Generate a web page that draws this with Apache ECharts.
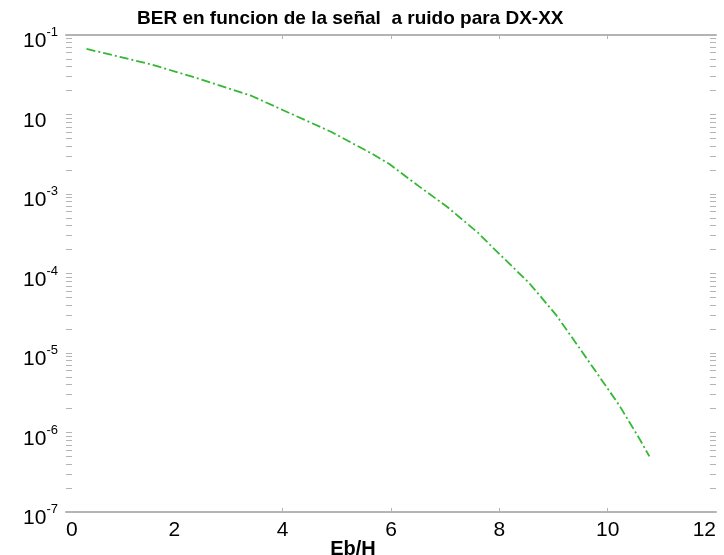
<!DOCTYPE html>
<html>
<head>
<meta charset="utf-8">
<script src="https://cdn.jsdelivr.net/npm/echarts@6/dist/echarts.min.js"></script>
<style>html,body{margin:0;padding:0;background:#fff}#c{width:724px;height:555px}</style>
</head>
<body>
<div id="c"></div>
<script>
// Data
const ebn0 = [0.38, 0.77, 1.55, 2.41, 3.43, 4.0, 4.90, 5.66, 5.97, 6.53, 7.04, 7.61, 7.87, 8.55, 9.05, 9.53, 10.21, 10.58, 10.77];
const ber  = [0.0667, 0.0577, 0.0431, 0.0288, 0.0171, 0.0114, 0.00603, 0.00318, 0.00238, 0.00123, 6.86e-4, 3.24e-4, 2.15e-4, 7.6e-5, 3.0e-5, 1.03e-5, 2.22e-6, 8.5e-7, 5.0e-7];
const titleText = 'BER en funcion de la señal  a ruido para DX-XX';
const xName = 'Eb/H';
const xTickLabels = [0, 2, 4, 6, 8, 10, 12];
const xMarkTicks = [4, 6, 8, 10];
const yDecades = [1e-7, 1e-6, 1e-5, 1e-4, 1e-3, 1e-2, 1e-1];
const yMinorMult = [2, 3, 4, 5, 6, 7, 8, 9];

const yTicks = [];
yDecades.forEach((d, i) => {
  yTicks.push(d);
  if (i < yDecades.length - 1) yMinorMult.forEach(m => yTicks.push(+(m * d).toPrecision(3)));
});

const gray = '#b4b4b4';
const font = 'Arial, "Liberation Sans", sans-serif';

function yLabel(v) {
  const e = Math.round(Math.log10(v));
  if (e === -2) return '{b|10}{h|' + e + '}';
  return '{b|10}{s|' + e + '}';
}
const rich = {
  b: { fontSize: 21, fontFamily: font, color: '#000', verticalAlign: 'bottom' },
  s: { fontSize: 13, fontFamily: font, color: '#000', verticalAlign: 'bottom', padding: [0, 0, 13, 0] },
  h: { fontSize: 13, fontFamily: font, color: 'rgba(0,0,0,0)', verticalAlign: 'bottom', padding: [0, 0, 13, 0] }
};

const chart = echarts.init(document.getElementById('c'), null, { renderer: 'canvas' });
chart.setOption({
  animation: false,
  backgroundColor: '#fff',
  title: {
    text: titleText,
    left: 137, top: 9, padding: 0,
    textStyle: { fontFamily: font, fontSize: 19, fontWeight: 'bold', color: '#000' }
  },
  grid: { left: 66, right: 8, top: 35, bottom: 43, containLabel: false, outerBoundsMode: 'none' },
  xAxis: [{
    type: 'value', min: 0, max: 12, interval: 2, position: 'bottom',
    name: xName, nameLocation: 'middle', nameGap: 27, nameMoveOverlap: false,
    nameTextStyle: { fontFamily: font, fontSize: 20, fontWeight: 'bold', color: '#000', padding: [0, 76, 0, 0] },
    axisLine: { show: true, onZero: false, lineStyle: { color: gray, width: 2 } },
    axisTick: { show: true, inside: true, length: 4, customValues: xMarkTicks, lineStyle: { color: gray } },
    axisLabel: { customValues: xTickLabels, margin: 8, fontFamily: font, fontSize: 21, color: '#000', alignMinLabel: 'left', alignMaxLabel: 'right', showMinLabel: true, showMaxLabel: true },
    splitLine: { show: false }
  }, {
    type: 'value', min: 0, max: 12, interval: 2, position: 'top',
    axisLine: { show: true, onZero: false, lineStyle: { color: gray, width: 2 } },
    axisTick: { show: true, inside: true, length: 4, customValues: xMarkTicks, lineStyle: { color: gray } },
    axisLabel: { show: false },
    splitLine: { show: false }
  }],
  yAxis: [{
    type: 'log', logBase: 10, min: 1e-7, max: 1e-1, position: 'left',
    axisLine: { show: false, onZero: false },
    axisTick: { show: true, inside: true, length: 6, customValues: yTicks, lineStyle: { color: gray, width: 1 } },
    axisLabel: { customValues: yDecades, formatter: yLabel, rich: rich, margin: 8, padding: [8, 0, 0, 0] },
    splitLine: { show: false }
  }, {
    type: 'log', logBase: 10, min: 1e-7, max: 1e-1, position: 'right',
    axisLine: { show: false, onZero: false },
    axisTick: { show: true, inside: true, length: 6, customValues: yTicks, lineStyle: { color: gray, width: 1 } },
    axisLabel: { show: false },
    splitLine: { show: false }
  }],
  series: [{
    type: 'line',
    xAxisIndex: 0, yAxisIndex: 0,
    data: ebn0.map((x, i) => [x, ber[i]]),
    symbol: 'none',
    smooth: false,
    lineStyle: { color: '#33b833', width: 1.8, type: [9, 3, 2, 3] }
  }]
});
</script>
</body>
</html>
